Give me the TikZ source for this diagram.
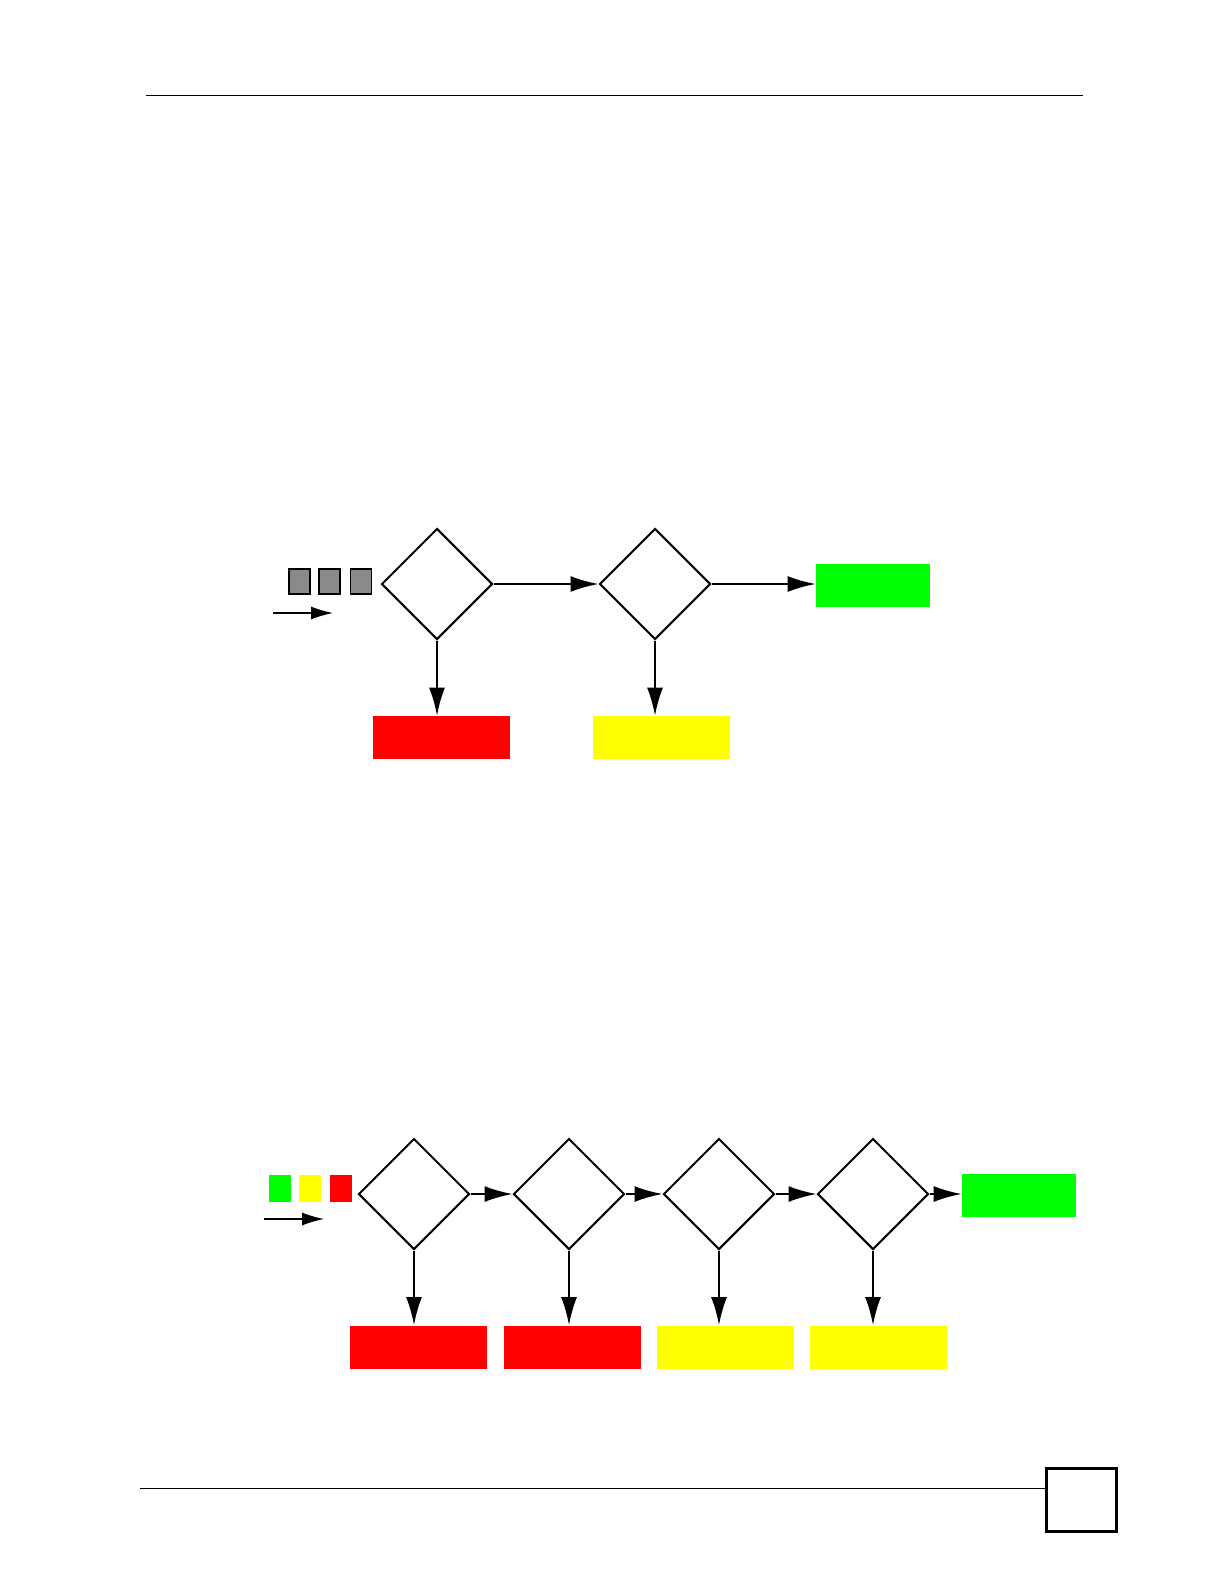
\documentclass[tikz,border=0pt]{standalone}
\usepackage{tikz}
\usetikzlibrary{shapes.geometric,arrows.meta,positioning}
\definecolor{passgreen}{HTML}{00FF00}
\definecolor{holdyellow}{HTML}{FFFF00}
\definecolor{dropred}{HTML}{FF0000}
\definecolor{pktgray}{HTML}{8A8A8A}

\begin{document}
\begin{tikzpicture}[
    x=0.5pt, y=-0.5pt,
    check/.style={diamond, draw, line width=1pt, minimum width=55.5pt, minimum height=55.5pt,
                  inner sep=0pt, aspect=1},
    bin/.style={rectangle, inner sep=0pt, minimum width=68.5pt, minimum height=21.5pt},
    passbin/.style={bin, fill=passgreen, minimum width=57pt},
    holdbin/.style={bin, fill=holdyellow},
    dropbin/.style={bin, fill=dropred},
    packet/.style={rectangle, draw, line width=0.6pt, fill=pktgray, inner sep=0pt,
                   minimum width=10.5pt, minimum height=12.5pt},
    chip/.style={rectangle, inner sep=0pt, minimum width=11pt, minimum height=13.5pt},
    arrow/.style={-{Latex[length=14pt, width=8pt]}, line width=1pt},
    flowarrow/.style={-{Latex[length=11pt, width=6.5pt]}, line width=0.6pt},
    rule/.style={line width=0.5pt},
]
\useasboundingbox (0,0) rectangle (1224,1584);

% ── Page rules ─────────────────────────────────────────────────────────────
\draw[rule] (146,96) -- (1083,96);
\draw[rule] (140,1488) -- (1045,1488);
\node[draw, line width=1.5pt, inner sep=0pt, minimum width=35pt, minimum height=31.5pt]
    (pagebox) at (1081,1499.5) {};

% ── Upper figure: two checks ──────────────────────────────────────────────
\node[packet] (pa) at (299.5,581.5) {};
\node[packet] (pb) at (329.5,581.5) {};
\node[packet] (pc) at (361,581.5)   {};
\coordinate (inAs) at (273,613);
\coordinate (inAe) at (333,613);
\draw[flowarrow] (inAs) -- (inAe);

\node[check] (ca) at (437,584) {};
\node[check] (cb) at (655,584) {};
\node[passbin] (okA)   at (873,585)    {};
\node[dropbin] (dropA) at (441,737.5)  {};
\node[holdbin] (holdA) at (661.5,737.5) {};

\draw[arrow] (ca.east) -- (cb.west);
\draw[arrow] (cb.east) -- (cb.east -| okA.west);
\draw[arrow] (ca.south) -- (ca.south |- dropA.north);
\draw[arrow] (cb.south) -- (cb.south |- holdA.north);

% ── Lower figure: four checks ─────────────────────────────────────────────
\node[chip, fill=passgreen]  (ga) at (280,1188.5) {};
\node[chip, fill=holdyellow] (gb) at (310,1188.5) {};
\node[chip, fill=dropred]    (gc) at (341,1188.5) {};
\coordinate (inBs) at (264,1219);
\coordinate (inBe) at (324,1219);
\draw[flowarrow] (inBs) -- (inBe);

\node[check] (cc) at (414,1194) {};
\node[check] (cd) at (569,1194) {};
\node[check] (ce) at (719,1194) {};
\node[check] (cf) at (873,1194) {};
\node[passbin] (okB)   at (1019,1195.5) {};
\node[dropbin] (dropB) at (418,1347)   {};
\node[dropbin] (dropC) at (572,1347)   {};
\node[holdbin] (holdB) at (725,1347)   {};
\node[holdbin] (holdC) at (878.5,1347) {};

\draw[arrow] (cc.east) -- (cd.west);
\draw[arrow] (cd.east) -- (ce.west);
\draw[arrow] (ce.east) -- (cf.west);
\draw[arrow] (cf.east) -- (cf.east -| okB.west);
\draw[arrow] (cc.south) -- (cc.south |- dropB.north);
\draw[arrow] (cd.south) -- (cd.south |- dropC.north);
\draw[arrow] (ce.south) -- (ce.south |- holdB.north);
\draw[arrow] (cf.south) -- (cf.south |- holdC.north);

\end{tikzpicture}
\end{document}
